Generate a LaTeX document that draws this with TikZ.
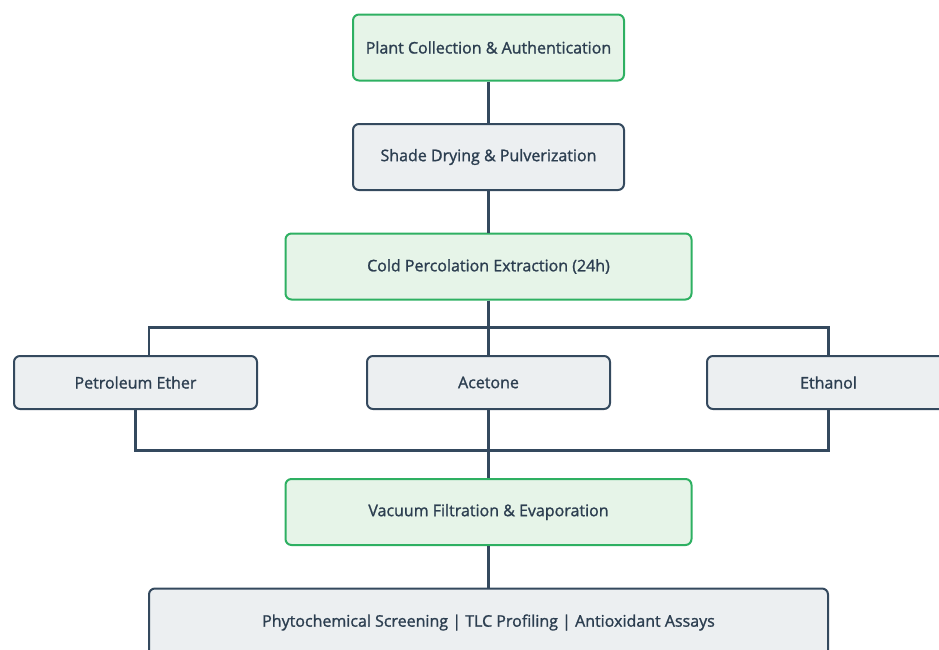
\documentclass[tikz,border=0pt]{standalone}
\usepackage{fontspec}
\setmainfont{Open Sans}[FakeBold=1.3]
\usepackage{xcolor}
\usepackage{tikz}
\usetikzlibrary{
  positioning,
  calc
}
\definecolor{EdgeDark}{HTML}{34495E}
\definecolor{TextDark}{HTML}{2C3E50}
\definecolor{StepGreen}{HTML}{2EB062}
\definecolor{FillGreen}{HTML}{E6F4E8}
\definecolor{FillGrey}{HTML}{ECEFF1}

\begin{document}
\begin{tikzpicture}[
  font=\fontsize{16}{19}\selectfont,
  text=TextDark,
  node distance=41.5pt,
  base/.style={
    rounded corners=6pt,
    line width=2pt,
    align=center,
    inner sep=4pt,
  },
  keystep/.style={
    base,
    draw=StepGreen,
    fill=FillGreen,
    minimum height=66pt,
  },
  plain/.style={
    base,
    draw=EdgeDark,
    fill=FillGrey,
    minimum height=66pt,
  },
  solvent/.style={
    base,
    draw=EdgeDark,
    fill=FillGrey,
    minimum width=243pt,
    minimum height=53pt,
  },
  link/.style={draw=EdgeDark, line width=2.2pt},
]
  \useasboundingbox (0,0) rectangle (939pt,-649pt);

  % -------- main column --------
  \node[keystep, minimum width=271pt] (collect) at (488.5pt,-47.5pt)
    {Plant Collection \& Authentication};
  \node[plain, minimum width=271pt, below=of collect] (drying)
    {Shade Drying \& Pulverization};
  \node[keystep, minimum width=406pt, below=of drying] (percol)
    {Cold Percolation Extraction (24h)};

  % -------- solvents --------
  \node[solvent, below=54.5pt of percol] (acetone) {Acetone};
  \node[solvent, left=108pt of acetone] (petrol) {Petroleum Ether};
  \node[solvent, right=95pt of acetone] (ethanol) {Ethanol};

  \node[keystep, minimum width=406pt, below=68pt of acetone] (filtr)
    {Vacuum Filtration \& Evaporation};
  \node[plain, minimum width=679pt, minimum height=68pt, below=of filtr] (assay)
    {Phytochemical Screening | TLC Profiling | Antioxidant Assays};

  % -------- connectors --------
  \draw[link] (collect) -- (drying);
  \draw[link] (drying) -- (percol);
  \draw[link] (percol.south) -- ++(0,-27pt) -| ([xshift=13.5pt]petrol.north);
  \draw[link] (percol.south) -- ++(0,-27pt) -| (ethanol.north);
  \draw[link] (percol) -- (acetone);

  \draw[link] (petrol.south) -- ++(0,-40.5pt) -| (filtr.north);
  \draw[link] (ethanol.south) -- ++(0,-40.5pt) -| (filtr.north);
  \draw[link] (acetone) -- (filtr);
  \draw[link] (filtr) -- (assay);
\end{tikzpicture}
\end{document}
